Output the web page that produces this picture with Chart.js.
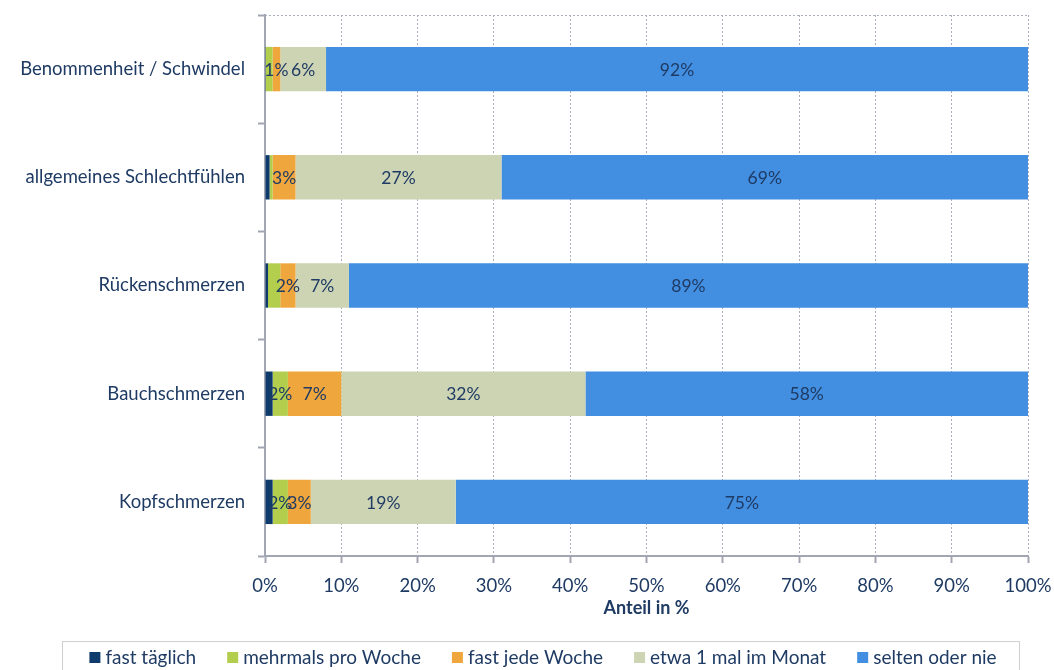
<!DOCTYPE html>
<html lang="de">
<head>
<meta charset="utf-8">
<title>Beschwerden</title>
<script src="https://cdn.jsdelivr.net/npm/chart.js@4.4.1/dist/chart.umd.min.js"></script>
<style>
html, body { margin: 0; padding: 0; background: #fff; }
#wrap { width: 1054px; height: 670px; position: relative; }
</style>
</head>
<body>
<div id="wrap"><canvas id="grafico"></canvas></div>
<script>
// Beschwerden, von oben nach unten
var Beschwerden = ["Benommenheit / Schwindel", "allgemeines Schlechtfühlen", "Rückenschmerzen", "Bauchschmerzen", "Kopfschmerzen"];

// Anteile in %
var FastTaeglich      = [0.1, 0.6, 0.4, 1,   1];
var MehrmalsProWoche  = [0.9, 0.4, 1.6, 2,   2];
var FastJedeWoche     = [1,   3,   2,   7,   3];
var EtwaEinmalImMonat = [6,   27,  7,   32,  19];
var SeltenOderNie     = [92,  69,  89,  58,  75];

var Kategorien = ["fast täglich", "mehrmals pro Woche", "fast jede Woche", "etwa 1 mal im Monat", "selten oder nie"];
var Farben = ["#0E3B6C", "#B3CD4C", "#EEA63D", "#CDD4B4", "#428EE1"];
// schmale Segmente bleiben ohne Beschriftung
var MinBeschriftung = [Infinity, 2, 1, 1, 1];

var Schrift = "Lato";
var Navy = "#1F3B64";
var Grau = "#A2A6B2";

function Datensatz(i, werte) {
    return {
        label: Kategorien[i],
        data: werte,
        backgroundColor: Farben[i],
        borderWidth: 0,
        barPercentage: 0.41,
        categoryPercentage: 1
    };
}

// Prozentwerte mittig in die Balken schreiben
var wertePlugin = {
    id: "werte",
    afterDatasetsDraw: function (chart) {
        var ctx = chart.ctx;
        ctx.save();
        ctx.font = "17.5px " + Schrift;
        ctx.fillStyle = Navy;
        ctx.textAlign = "center";
        ctx.textBaseline = "middle";
        chart.data.datasets.forEach(function (ds, i) {
            var meta = chart.getDatasetMeta(i);
            meta.data.forEach(function (el, j) {
                var v = ds.data[j];
                if (v < MinBeschriftung[i]) return;
                ctx.fillText(Math.round(v) + "%", (el.x + el.base) / 2, el.y + 1);
            });
        });
        ctx.restore();
    }
};

// obere Rahmenlinie und Legende mit Kasten
var rahmenPlugin = {
    id: "rahmen",
    afterDraw: function (chart) {
        var ctx = chart.ctx;
        var a = chart.chartArea;
        ctx.save();
        ctx.strokeStyle = "#A9AFBD";
        ctx.lineWidth = 1;
        ctx.setLineDash([2, 2]);
        ctx.beginPath();
        ctx.moveTo(a.left, a.top + 0.5);
        ctx.lineTo(a.right, a.top + 0.5);
        ctx.stroke();
        ctx.setLineDash([]);

        // Legende
        ctx.strokeStyle = "#CFCFCF";
        ctx.strokeRect(62.5, 641.5, 957, 40);
        ctx.font = "19px " + Schrift;
        ctx.textBaseline = "middle";
        ctx.textAlign = "left";
        var abstand = 31;
        var breiten = Kategorien.map(function (k) { return 16 + ctx.measureText(k).width; });
        var gesamt = breiten.reduce(function (s, b) { return s + b; }, 0) + abstand * (Kategorien.length - 1);
        var x = 543 - gesamt / 2;
        var y = 657;
        Kategorien.forEach(function (k, i) {
            ctx.fillStyle = Farben[i];
            ctx.fillRect(x, y - 5, 11, 11);
            ctx.fillStyle = Navy;
            ctx.fillText(k, x + 16, y + 1);
            x += breiten[i] + abstand;
        });
        ctx.restore();
    }
};

new Chart(document.getElementById("grafico"), {
    type: "bar",
    data: {
        labels: Beschwerden,
        datasets: [
            Datensatz(0, FastTaeglich),
            Datensatz(1, MehrmalsProWoche),
            Datensatz(2, FastJedeWoche),
            Datensatz(3, EtwaEinmalImMonat),
            Datensatz(4, SeltenOderNie)
        ]
    },
    options: {
        indexAxis: "y",
        responsive: true,
        maintainAspectRatio: false,
        animation: false,
        layout: { padding: { top: 15, right: 26, bottom: 50, left: 0 } },
        plugins: {
            legend: { display: false },
            tooltip: { enabled: false }
        },
        scales: {
            x: {
                stacked: true,
                min: 0,
                max: 100,
                afterFit: function (scale) {
                    scale.height = 64;
                    scale.paddingLeft = 0;
                    scale.paddingRight = 0;
                },
                ticks: {
                    stepSize: 10,
                    padding: 12,
                    color: Navy,
                    font: { family: Schrift, size: 18.5 },
                    callback: function (v) { return v + "%"; }
                },
                grid: {
                    color: "#A9AFBD",
                    lineWidth: 1,
                    tickLength: 7,
                    tickColor: Grau,
                    tickWidth: 2,
                    tickBorderDash: []
                },
                border: { display: true, color: Grau, width: 2, dash: [2, 2] },
                title: {
                    display: true,
                    text: "Anteil in %",
                    color: Navy,
                    font: { family: Schrift, size: 18, weight: "bold" },
                    padding: { top: 0, bottom: 1 }
                }
            },
            y: {
                stacked: true,
                afterFit: function (scale) {
                    scale.width = 265;
                    scale.paddingTop = 0;
                    scale.paddingBottom = 0;
                },
                ticks: {
                    padding: 13,
                    color: Navy,
                    font: { family: Schrift, size: 18.5 }
                },
                grid: {
                    offset: true,
                    drawOnChartArea: false,
                    tickLength: 7,
                    tickColor: Grau,
                    tickWidth: 2
                },
                border: { display: true, color: Grau, width: 2 }
            }
        }
    },
    plugins: [wertePlugin, rahmenPlugin]
});
</script>
</body>
</html>
